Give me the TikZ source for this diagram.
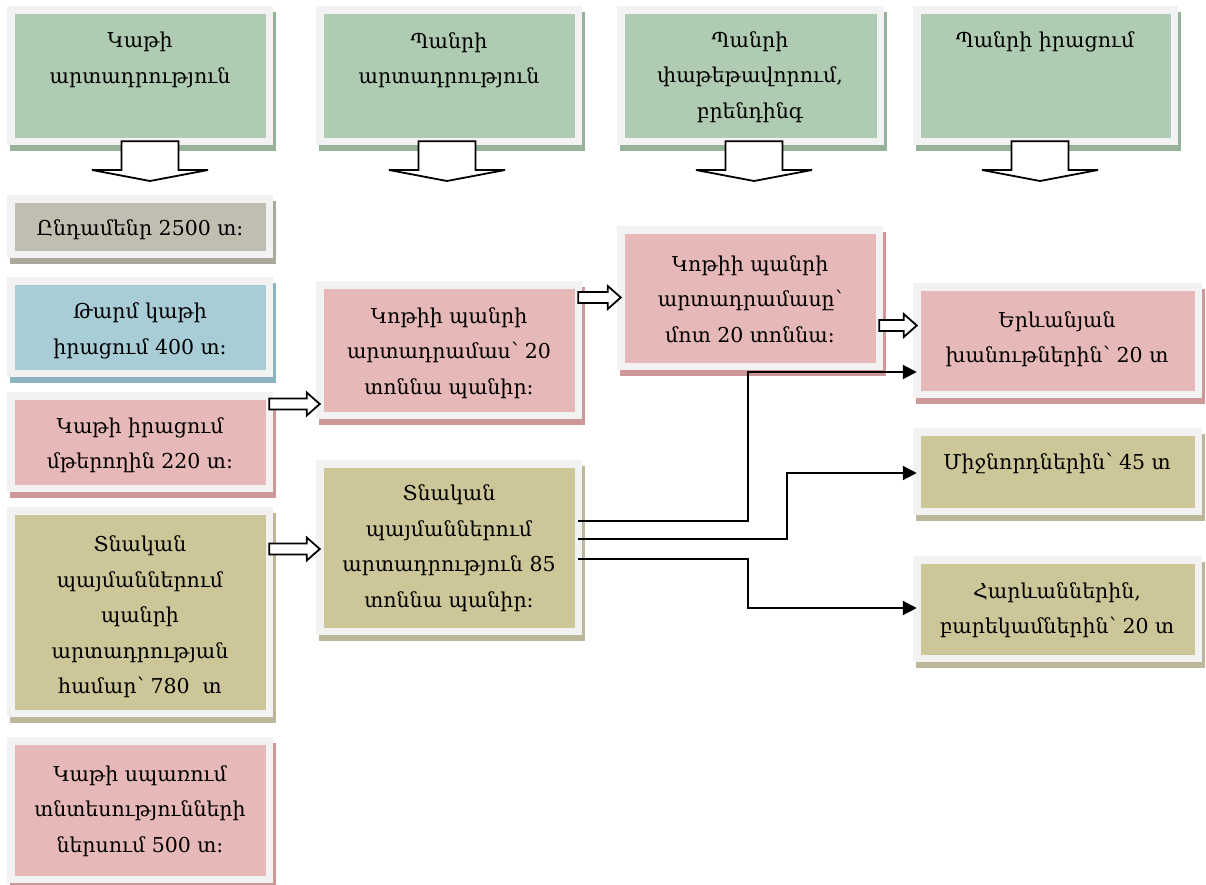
\documentclass[tikz,border=0pt]{standalone}
\usepackage{fontspec}
\setmainfont{DejaVu Serif}
\usetikzlibrary{calc,arrows.meta}
\definecolor{frm}{RGB}{242,242,242}
\definecolor{grn}{RGB}{175,203,177}
\definecolor{grnS}{RGB}{150,178,152}
\definecolor{gry}{RGB}{191,190,176}
\definecolor{gryS}{RGB}{170,169,155}
\definecolor{blu}{RGB}{168,205,214}
\definecolor{bluS}{RGB}{140,180,192}
\definecolor{pnk}{RGB}{230,184,183}
\definecolor{pnkS}{RGB}{207,152,152}
\definecolor{olv}{RGB}{205,198,152}
\definecolor{olvS}{RGB}{188,183,152}
\tikzset{
  frame/.style={draw=frm, line width=7.5pt, inner sep=0pt, outer sep=0pt},
  txt/.style={font=\fontsize{20.5}{35.5}\selectfont, align=center, inner sep=0pt, text=black},
  blk/.style={draw=black, fill=white, line width=1.8pt, line join=miter},
  conn/.style={draw=black, line width=2.2pt, -{Triangle[length=14pt,width=14pt]}}
}
\newcommand\panel[7]{%
  \fill[#7] (#2+3,#3+5.5) rectangle (#4+3,#5+5.5);
  \node[frame, fill=#6, minimum width={#4-#2-7.5}, minimum height={#5-#3-7.5}, anchor=north west] (#1) at (#2+3.75,#3+3.75) {};
}
\newcommand\vblock[2]{%
  \draw[blk] let \p1=(#1), \p2=(#2) in
    (\x2-28.5pt,\y1) -- (\x2+28.5pt,\y1) -- (\x2+28.5pt,\y2+11pt) -- (\x2+58pt,\y2+11pt)
    -- (\x2,\y2) -- (\x2-58pt,\y2+11pt) -- (\x2-28.5pt,\y2+11pt) -- cycle;
}
\newcommand\hblock[2]{%
  \draw[blk] let \p1=(#1), \p2=(#2) in
    (\x1,\y2+5.5pt) -- (\x2-13pt,\y2+5.5pt) -- (\x2-13pt,\y2+11.5pt) -- (\x2,\y2)
    -- (\x2-13pt,\y2-11.5pt) -- (\x2-13pt,\y2-5.5pt) -- (\x1,\y2-5.5pt) -- cycle;
}
\begin{document}
\begin{tikzpicture}[x=1pt,y=-1pt]
\useasboundingbox (0,0) rectangle (1206,884);
% top row
\panel{A}{7}{6}{273}{145}{grn}{grnS}
\panel{B}{316}{6}{582}{145}{grn}{grnS}
\panel{C}{617}{6}{884}{145}{grn}{grnS}
\panel{D}{913}{6}{1178}{145}{grn}{grnS}
\node[txt] (At) at (140,60) {Կաթի\\արտադրություն};
\node[txt] (Bt) at (449,60) {Պանրի\\արտադրություն};
\node[txt] (Ct) at (750,77) {Պանրի\\փաթեթավորում,\\բրենդինգ};
\node[txt] (Dt) at (1045,42) {Պանրի իրացում};
% left column
\panel{L1}{7}{195}{273}{258}{gry}{gryS}
\panel{L2}{7}{277}{273}{377}{blu}{bluS}
\panel{L3}{7}{392}{273}{492}{pnk}{pnkS}
\panel{L4}{7}{507}{273}{717}{olv}{olvS}
\panel{L5}{7}{737}{273}{883}{pnk}{pnkS}
\node[txt] (L1t) at (140,230) {Ընդամենր 2500 տ։};
\node[txt] (L2t) at (140,331) {Թարմ կաթի\\իրացում 400 տ։};
\node[txt] (L3t) at (140,445) {Կաթի իրացում\\մթերողին 220 տ։};
\node[txt] (L4t) at (140,617) {Տնական\\պայմաններում\\պանրի\\արտադրության\\համար՝ 780~ տ};
\node[txt] (L5t) at (140,811) {Կաթի սպառում\\տնտեսությունների\\ներսում 500 տ։};
% middle column
\panel{M1}{316}{281}{582}{419}{pnk}{pnkS}
\panel{M2}{316}{460}{582}{635}{olv}{olvS}
\node[txt] (M1t) at (449,353) {Կոթիի պանրի\\արտադրամաս՝ 20\\տոննա պանիր։};
\node[txt] (M2t) at (449,548) {Տնական\\պայմաններում\\արտադրություն 85\\տոննա պանիր։};
% third column
\panel{T1}{617}{226}{883}{370}{pnk}{pnkS}
\node[txt] (T1t) at (750,299) {Կոթիի պանրի\\արտադրամասը՝\\մոտ 20 տոննա։};
% right column
\panel{R1}{913}{283}{1202}{398}{pnk}{pnkS}
\panel{R2}{913}{428}{1202}{515}{olv}{olvS}
\panel{R3}{913}{556}{1202}{662}{olv}{olvS}
\node[txt] (R1t) at (1057,339) {Երևանյան\\խանութներին՝ 20 տ};
\node[txt] (R2t) at (1057,463) {Միջնորդներին՝ 45 տ};
\node[txt] (R3t) at (1057,610) {Հարևաններին,\\բարեկամներին՝ 20 տ};
% down block arrows
\coordinate (Aend) at (150,181);
\coordinate (Bend) at (447,181);
\coordinate (Cend) at (754,181);
\coordinate (Dend) at (1040,181);
\vblock{A.south}{Aend}
\vblock{B.south}{Bend}
\vblock{C.south}{Cend}
\vblock{D.south}{Dend}
% horizontal block arrows
\hblock{L3.east |- 0,404}{M1.west |- 0,404}
\hblock{L4.east |- 0,549}{M2.west |- 0,549}
\hblock{M1.east |- 0,297.5}{T1.west |- 0,297.5}
\hblock{T1.east |- 0,325.5}{R1.west |- 0,325.5}
% connectors
\draw[conn] (M2.east |- 0,521) -| (748,372) -- (R1.west |- 0,372);
\draw[conn] (M2.east |- 0,539) -| (787,473) -- (R2.west |- 0,473);
\draw[conn] (M2.east |- 0,559) -| (748,608) -- (R3.west |- 0,608);
\end{tikzpicture}
\end{document}
